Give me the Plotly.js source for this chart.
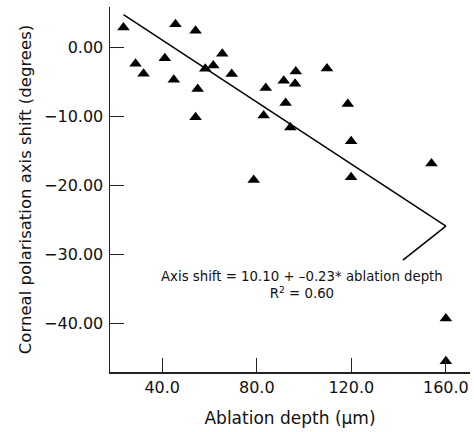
<!DOCTYPE html>
<html>
<head>
<meta charset="utf-8">
<script src="https://cdn.plot.ly/plotly-3.0.1.min.js"></script>
<style>html,body{margin:0;padding:0;background:#fff;}#chart{width:474px;height:432px;}</style>
</head>
<body>
<div id="chart"></div>
<script>
// Ablation depth (µm)
const ablationDepth = [23.6, 45.6, 54.1, 28.7, 32.1, 41.1, 44.9, 55.0, 58.2, 61.6, 65.4, 69.4, 54.1, 83.8,
  91.4, 92.2, 82.9, 94.2, 78.7, 96.5, 96.2, 109.7, 118.5, 119.9, 119.9, 153.9, 160.0, 160.0];
// Corneal polarisation axis shift (degrees)
const axisShift = [2.93, 3.41, 2.45, -2.33, -3.78, -1.52, -4.65, -6.0, -3.06, -2.58, -0.88, -3.84, -10.1, -5.87,
  -4.80, -8.04, -9.83, -11.57, -19.2, -3.45, -5.23, -3.01, -8.19, -13.6, -18.8, -16.8, -39.3, -45.5];

const fitIntercept = 10.10;
const fitSlope = -0.225;
const xTickVals = [40, 80, 120, 160];
const yTickVals = [0, -10, -20, -30, -40];
const equationText = 'Axis shift = 10.10 + \u20130.23* ablation depth<br>R<sup>2</sup> = 0.60';

const xMin = Math.min(...ablationDepth), xMax = Math.max(...ablationDepth);
const fitX = [xMin, xMax];
const fitY = fitX.map(v => fitIntercept + fitSlope * v);

const font = '"DejaVu Sans", Lato, sans-serif';

const data = [
  {x: fitX, y: fitY, type: 'scatter', mode: 'lines', line: {color: '#000', width: 1.5}, hoverinfo: 'skip'},
  {x: ablationDepth, y: axisShift, type: 'scatter', mode: 'markers',
   marker: {symbol: 'triangle-up', size: 11, color: '#000'}}
];

const layout = {
  width: 474, height: 432,
  margin: {l: 110, r: 4, t: 7, b: 60},
  paper_bgcolor: '#fff', plot_bgcolor: '#fff',
  showlegend: false,
  font: {family: font, color: '#111', size: 16},
  xaxis: {
    range: [17.9, 170.2], tickvals: xTickVals, tickformat: '.1f',
    ticks: 'inside', ticklen: 14, tickwidth: 1, tickcolor: '#222',
    showline: true, linecolor: '#222', linewidth: 1.5, showgrid: false, zeroline: false,
    tickfont: {size: 16}, ticklabelstandoff: 0,
    title: {text: 'Ablation depth (\u03bcm)', font: {size: 17}, standoff: 16}
  },
  yaxis: {
    range: [-47.07, 5.9], tickvals: yTickVals, tickformat: '.2f',
    ticks: 'inside', ticklen: 14, tickwidth: 1, tickcolor: '#222',
    showline: true, linecolor: '#222', linewidth: 1.5, showgrid: false, zeroline: false,
    tickfont: {size: 16}, ticklabelstandoff: 2,
    title: {text: 'Corneal polarisation axis shift (degrees)', font: {size: 16.5}, standoff: 8}
  },
  shapes: [{
    type: 'line', xref: 'x', yref: 'y', xsizemode: 'pixel', ysizemode: 'pixel',
    xanchor: fitX[1], yanchor: fitY[1], x0: 0, y0: 0, x1: -43, y1: -34,
    line: {color: '#000', width: 1.5}
  }],
  annotations: [{
    x: 99.0, y: -34.5, xref: 'x', yref: 'y', xanchor: 'center', yanchor: 'middle',
    text: equationText, showarrow: false, align: 'center',
    font: {family: font, size: 13.3, color: '#111'}
  }]
};

Plotly.newPlot('chart', data, layout, {staticPlot: true, displayModeBar: false});
</script>
</body>
</html>
